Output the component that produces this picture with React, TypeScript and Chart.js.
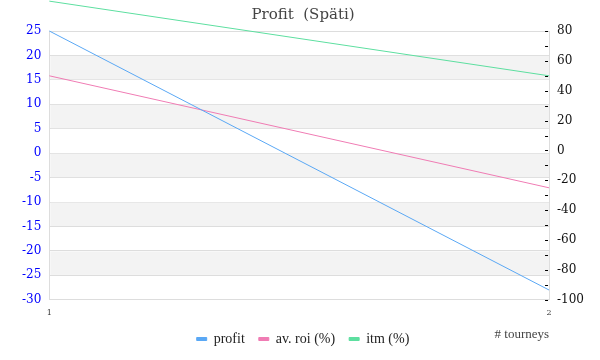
import React, { useEffect, useRef } from "react";
import { Chart, registerables } from "chart.js";

Chart.register(...registerables);

const categories = ["1", "2"];
const profit = [25, -28];
const avRoi = [50, -25];
const itm = [100, 50];
const leftTicks = { min: -30, max: 25, step: 5 };
const rightTicks = { min: -100, max: 80, step: 10 };

const bandsPlugin = {
  id: "bands",
  beforeDatasetsDraw(chart: any) {
    const { ctx, chartArea } = chart;
    const y = chart.scales.y;
    const ticks = y.ticks.map((t: any) => t.value);
    ctx.save();
    ctx.fillStyle = "#f3f3f3";
    for (let v = 20; v > leftTicks.min; v -= 10) {
      if (!ticks.includes(v)) continue;
      const top = y.getPixelForValue(v);
      const bot = y.getPixelForValue(v - 5);
      ctx.fillRect(chartArea.left + 1, top + 0.5, chartArea.right - chartArea.left - 1, bot - top - 1);
    }
    ctx.restore();
  },
  afterDraw(chart: any) {
    const { ctx, chartArea } = chart;
    const y1 = chart.scales.y1;
    ctx.save();
    ctx.strokeStyle = "#000";
    ctx.lineWidth = 1;
    y1.ticks.forEach((t: any) => {
      const py = Math.round(y1.getPixelForValue(t.value)) + 0.5;
      ctx.beginPath();
      ctx.moveTo(chartArea.right - 4, py);
      ctx.lineTo(chartArea.right - 1, py);
      ctx.stroke();
    });
    ctx.restore();
  },
};

export default function App() {
  const ref = useRef<HTMLCanvasElement | null>(null);
  useEffect(() => {
    document.body.style.margin = "0";
    const chart = new Chart(ref.current!, {
      type: "line",
      data: {
        labels: categories,
        datasets: [
          { label: "profit", data: profit, borderColor: "#5aa8f5", backgroundColor: "#5aa8f5", borderWidth: 1, pointRadius: 0, yAxisID: "y", clip: false as any },
          { label: "av. roi (%)", data: avRoi, borderColor: "#f07cb4", backgroundColor: "#f07cb4", borderWidth: 1, pointRadius: 0, yAxisID: "y1", clip: false as any },
          { label: "itm (%)", data: itm, borderColor: "#5ddfa0", backgroundColor: "#5ddfa0", borderWidth: 1, pointRadius: 0, yAxisID: "y1", clip: false as any },
        ],
      },
      options: {
        animation: false,
        responsive: true,
        maintainAspectRatio: false,
        layout: { padding: { left: 14, right: 8, top: 0, bottom: 4 } },
        plugins: {
          title: {
            display: true,
            text: "Profit  (Späti)",
            color: "#444",
            font: { family: "DejaVu Serif", size: 15, weight: "normal" },
            padding: { top: 6, bottom: 7 },
          },
          legend: {
            position: "bottom",
            labels: {
              boxWidth: 10,
              boxHeight: 3,
              color: "#222",
              font: { family: "Liberation Serif", size: 14 },
              padding: 14,
            },
          },
          tooltip: { enabled: false },
        },
        scales: {
          x: {
            grid: { color: "#dddddd", drawTicks: false },
            border: { color: "#dddddd" },
            ticks: { color: "#333", font: { family: "DejaVu Serif", size: 8 }, padding: 8 },
            title: {
              display: true,
              text: "# tourneys",
              align: "end",
              color: "#444",
              font: { family: "Liberation Serif", size: 13 },
              padding: { top: 1, bottom: -24 },
            },
          },
          y: {
            position: "left",
            min: leftTicks.min,
            max: leftTicks.max,
            grid: { color: "#dddddd", drawTicks: false },
            border: { color: "#dddddd" },
            ticks: { stepSize: leftTicks.step, color: "#0000ff", font: { family: "DejaVu Serif", size: 12 }, padding: 8 },
          },
          y1: {
            position: "right",
            min: rightTicks.min,
            max: rightTicks.max,
            grid: { drawOnChartArea: false, drawTicks: false },
            border: { color: "#dddddd" },
            ticks: {
              stepSize: rightTicks.step,
              color: "#111",
              font: { family: "DejaVu Serif", size: 12 },
              padding: 8,
              autoSkip: false,
              callback: (v: any) => (Number(v) % 20 === 0 ? String(v) : ""),
            },
          },
        },
      },
      plugins: [bandsPlugin],
    });
    return () => chart.destroy();
  }, []);
  return (
    <div style={{ width: 600, height: 360, position: "relative" }}>
      <canvas ref={ref} />
    </div>
  );
}
